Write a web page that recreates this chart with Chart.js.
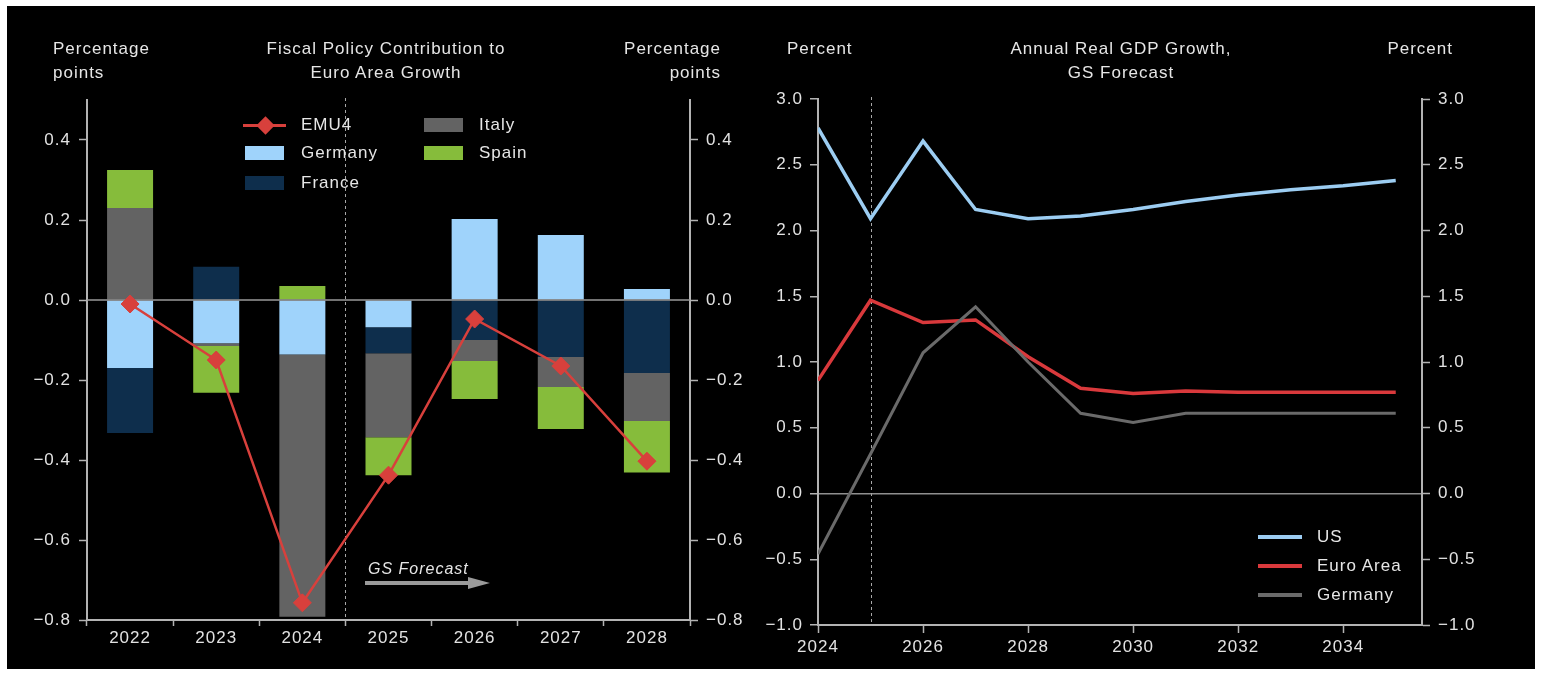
<!DOCTYPE html>
<html>
<head>
<meta charset="utf-8">
<script src="https://cdn.jsdelivr.net/npm/chart.js@4.4.1/dist/chart.umd.min.js"></script>
<style>
  html, body { margin: 0; padding: 0; background: #fff; }
  body {
    width: 1542px; height: 677px; position: relative; overflow: hidden;
    font-family: "Liberation Sans", Arial, sans-serif; letter-spacing: 1px; color: #e6e6e6;
  }
  .panel { position: absolute; left: 7px; top: 6px; width: 1528px; height: 663px; background: #000; }
  .wrap  { position: absolute; top: 0; height: 677px; }
  .txt   { position: absolute; font-size: 17px; line-height: 24px; white-space: nowrap; }
  .ctr   { transform: translateX(-50%); text-align: center; }
  .rt    { text-align: right; }
  .sw    { position: absolute; }
</style>
</head>
<body>
<div class="panel"></div>

<!-- left chart -->
<div class="wrap" style="left:0;width:770px"><canvas id="fiscalChart"></canvas></div>
<!-- right chart -->
<div class="wrap" style="left:740px;width:802px"><canvas id="gdpChart"></canvas></div>

<!-- headers -->
<div class="txt" style="left:53px;top:37px">Percentage<br>points</div>
<div class="txt ctr" style="left:386px;top:37px">Fiscal Policy Contribution to<br>Euro Area Growth</div>
<div class="txt rt" style="right:821px;top:37px">Percentage<br>points</div>

<div class="txt" style="left:787px;top:37px">Percent</div>
<div class="txt ctr" style="left:1121px;top:37px">Annual Real GDP Growth,<br>GS Forecast</div>
<div class="txt rt" style="right:89px;top:37px">Percent</div>

<!-- legend, fiscal chart -->
<div class="sw" style="left:243px;top:123.5px;width:43px;height:3px;background:#d8403c"></div>
<div class="sw" style="left:258.5px;top:118.5px;width:13px;height:13px;background:#d8403c;transform:rotate(45deg)"></div>
<div class="txt" style="left:301px;top:113px">EMU4</div>
<div class="sw" style="left:245px;top:146px;width:39px;height:14px;background:#9fd3fb"></div>
<div class="txt" style="left:301px;top:141px">Germany</div>
<div class="sw" style="left:245px;top:176px;width:39px;height:14px;background:#0e2e4c"></div>
<div class="txt" style="left:301px;top:171px">France</div>
<div class="sw" style="left:424px;top:118px;width:39px;height:14px;background:#636363"></div>
<div class="txt" style="left:479px;top:113px">Italy</div>
<div class="sw" style="left:424px;top:146px;width:39px;height:14px;background:#86bc3b"></div>
<div class="txt" style="left:479px;top:141px">Spain</div>

<!-- forecast marker -->
<div class="txt" style="left:368px;top:557px;font-size:16px;font-style:italic">GS Forecast</div>
<svg class="sw" style="left:360px;top:570px" width="135" height="26">
  <line x1="5" y1="13" x2="110" y2="13" stroke="#9a9a9a" stroke-width="4"/>
  <polygon points="108,7 130,13 108,19" fill="#9a9a9a"/>
</svg>

<!-- legend, GDP chart -->
<div class="sw" style="left:1258px;top:535px;width:44px;height:4px;background:#9ccdf2"></div>
<div class="txt" style="left:1317px;top:525px">US</div>
<div class="sw" style="left:1258px;top:564px;width:44px;height:4px;background:#d9393c"></div>
<div class="txt" style="left:1317px;top:554px">Euro Area</div>
<div class="sw" style="left:1258px;top:593px;width:44px;height:4px;background:#6a6a6a"></div>
<div class="txt" style="left:1317px;top:583px">Germany</div>

<script>
/* ── data: fiscal policy contribution (pp) ── */
const fiscalYears = ['2022', '2023', '2024', '2025', '2026', '2027', '2028'];
const deFiscal  = [-0.17, -0.108, -0.136, -0.068, 0.2025, 0.1625, 0.0275];
const frFiscal  = [-0.1625, 0.083, 0, -0.065, -0.10, -0.1425, -0.1825];
const itFiscal  = [0.23, -0.007, -0.656, -0.21, -0.0525, -0.075, -0.12];
const esFiscal  = [0.095, -0.117, 0.035, -0.095, -0.095, -0.105, -0.1285];
const emu4      = [-0.01, -0.15, -0.757, -0.438, -0.0475, -0.165, -0.403];
const fiscalTicks = [-0.8, -0.6, -0.4, -0.2, 0.0, 0.2, 0.4];

/* ── data: annual real GDP growth (%) ── */
const gdpYears   = [2024, 2025, 2026, 2027, 2028, 2029, 2030, 2031, 2032, 2033, 2034, 2035];
const usGrowth   = [2.78, 2.09, 2.68, 2.16, 2.09, 2.11, 2.16, 2.22, 2.27, 2.31, 2.34, 2.38];
const euroGrowth = [0.86, 1.47, 1.30, 1.32, 1.04, 0.80, 0.76, 0.78, 0.77, 0.77, 0.77, 0.77];
const deGrowth   = [-0.46, 0.30, 1.07, 1.42, 1.00, 0.61, 0.54, 0.61, 0.61, 0.61, 0.61, 0.61];
const gdpTicks   = [-1.0, -0.5, 0.0, 0.5, 1.0, 1.5, 2.0, 2.5, 3.0];

Chart.defaults.font.family = '"Liberation Sans", Arial, sans-serif';
Chart.defaults.font.size = 17;
Chart.defaults.color = '#e2e2e2';

const AXIS = '#b3b3b3';
const fmt = v => (Math.abs(v) < 1e-9 ? '0.0' : v.toFixed(1).replace('-', '\u2212'));

/* letter spacing for canvas text, wider look like the source font */
const spacing = {
  id: 'spacing',
  beforeDraw(chart) { chart.ctx.letterSpacing = '1px'; }
};

/* dashed separator between actuals and forecast */
const forecastLine = {
  id: 'forecastLine',
  beforeDatasetsDraw(chart, args, opts) {
    const { ctx, chartArea } = chart;
    const x = Math.round(chart.scales.x.getPixelForValue(opts.at)) + 0.5;
    ctx.save();
    ctx.strokeStyle = '#a8a8a8';
    ctx.lineWidth = 1;
    ctx.setLineDash([3, 3]);
    ctx.beginPath();
    ctx.moveTo(x, chartArea.top - 2);
    ctx.lineTo(x, chartArea.bottom);
    ctx.stroke();
    ctx.restore();
  }
};

/* zero line drawn above the bars but below EMU4 */
const zeroLine = {
  id: 'zeroLine',
  beforeDatasetDraw(chart, args) {
    if (args.meta.type !== 'line') return;
    const { ctx, chartArea } = chart;
    const y = chart.scales.y.getPixelForValue(0);
    ctx.save();
    ctx.strokeStyle = '#9a9a9a';
    ctx.lineWidth = 1.5;
    ctx.beginPath();
    ctx.moveTo(chartArea.left, y);
    ctx.lineTo(chartArea.right, y);
    ctx.stroke();
    ctx.restore();
  }
};

function yAxis(pos, width, min, max, ticks, stacked) {
  return {
    position: pos,
    min, max,
    stacked: !!stacked,
    afterFit: s => { s.width = width; },
    afterBuildTicks: s => { s.ticks = ticks.map(v => ({ value: v })); },
    grid: { drawOnChartArea: false, tickColor: AXIS, tickLength: 8, tickWidth: 1.5 },
    border: { color: AXIS, width: 2 },
    ticks: { padding: 8, callback: v => fmt(v) }
  };
}

/* ── left: stacked bars + EMU4 ── */
const barDs = (label, data, color) => ({
  type: 'bar', label, data, backgroundColor: color, borderWidth: 0,
  barPercentage: 0.534, categoryPercentage: 1, order: 1
});

new Chart(document.getElementById('fiscalChart'), {
  type: 'bar',
  data: {
    labels: fiscalYears,
    datasets: [
      {
        type: 'line', label: 'EMU4', data: emu4, stack: 'emu',
        borderColor: '#d8403c', borderWidth: 2.5, tension: 0,
        pointStyle: 'rectRot', pointRadius: 9, pointBorderWidth: 1,
        pointBackgroundColor: '#d8403c', pointBorderColor: '#d8403c', order: 0
      },
      barDs('Germany', deFiscal, '#9fd3fb'),
      barDs('France', frFiscal, '#0e2e4c'),
      barDs('Italy', itFiscal, '#636363'),
      barDs('Spain', esFiscal, '#86bc3b')
    ]
  },
  options: {
    responsive: true,
    maintainAspectRatio: false,
    animation: false,
    layout: { padding: { top: 100, left: 0, right: 0, bottom: 0 } },
    plugins: {
      legend: { display: false },
      tooltip: { enabled: false },
      forecastLine: { at: 2.5 }
    },
    scales: {
      x: {
        stacked: true,
        afterFit: s => { s.height = 57; },
        grid: { drawOnChartArea: false, tickColor: AXIS, tickLength: 6, tickWidth: 1.5 },
        border: { color: AXIS, width: 2 },
        ticks: { padding: 2, autoSkip: false, maxRotation: 0 }
      },
      y: yAxis('left', 87, -0.8, 0.5, fiscalTicks, true),
      y2: yAxis('right', 80, -0.8, 0.5, fiscalTicks)
    }
  },
  plugins: [spacing, forecastLine, zeroLine]
});

/* ── right: GDP growth lines ── */
const lineDs = (label, vals, color, w) => ({
  label,
  data: gdpYears.map((x, i) => ({ x, y: vals[i] })),
  borderColor: color, borderWidth: w, pointRadius: 0, tension: 0
});

const gdpY = yAxis('left', 78, -1, 3, gdpTicks);
gdpY.grid = {
  drawOnChartArea: true,
  color: c => (c.tick && Math.abs(c.tick.value) < 1e-9 ? '#8f8f8f' : 'rgba(0,0,0,0)'),
  lineWidth: 1.5,
  tickColor: AXIS, tickLength: 8, tickWidth: 1.5
};
gdpY.ticks.padding = 7;
const gdpY2 = yAxis('right', 120, -1, 3, gdpTicks);

new Chart(document.getElementById('gdpChart'), {
  type: 'line',
  data: {
    datasets: [
      lineDs('Germany', deGrowth, '#6a6a6a', 3),
      lineDs('Euro Area', euroGrowth, '#d9393c', 3.5),
      lineDs('US', usGrowth, '#9ccdf2', 3.5)
    ]
  },
  options: {
    responsive: true,
    maintainAspectRatio: false,
    animation: false,
    layout: { padding: { top: 99, left: 0, right: 0, bottom: 0 } },
    plugins: {
      legend: { display: false },
      tooltip: { enabled: false },
      forecastLine: { at: 2025 }
    },
    scales: {
      x: {
        type: 'linear',
        min: 2024, max: 2035.5,
        afterFit: s => { s.height = 52; },
        grid: { drawOnChartArea: false, tickColor: AXIS, tickLength: 8, tickWidth: 1.5 },
        border: { color: AXIS, width: 2 },
        ticks: { stepSize: 2, includeBounds: false, autoSkip: false, maxRotation: 0, padding: 4, callback: v => String(v) }
      },
      y: gdpY,
      y2: gdpY2
    }
  },
  plugins: [spacing, forecastLine]
});
</script>
</body>
</html>
